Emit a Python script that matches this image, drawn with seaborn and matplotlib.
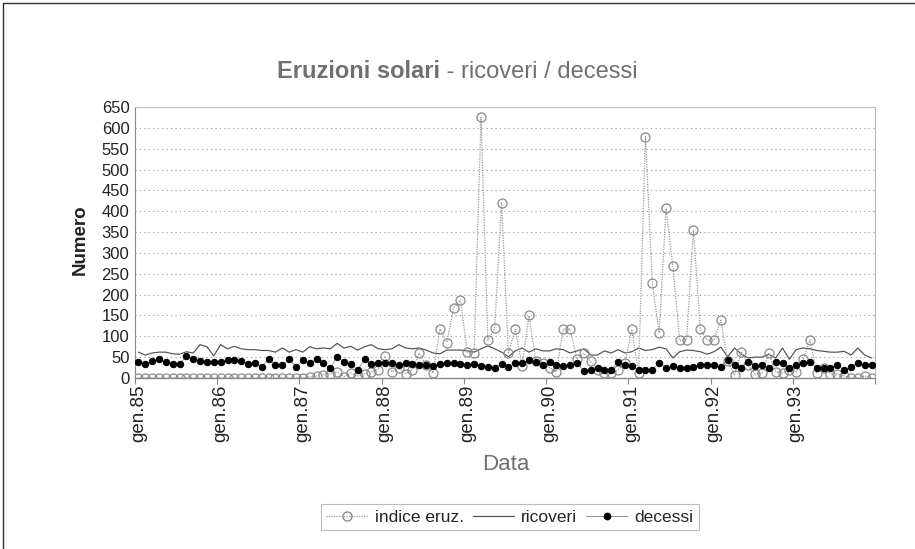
import matplotlib
matplotlib.use("Agg")
import matplotlib.pyplot as plt
import seaborn as sns
import pandas as pd
import numpy as np
from matplotlib.lines import Line2D

# ---- data (monthly, Jan 1985 - Dec 1993) ----
years = ["85", "86", "87", "88", "89", "90", "91", "92", "93"]
tick_labels = ["gen." + y for y in years]

indice_eruz = [
    0, 0, 0, 0, 0, 0, 0, 0, 0, 0, 0, 0,                 # 1985
    0, 0, 0, 0, 0, 0, 0, 0, 0, 0, 0, 0,                 # 1986
    0, 2, 5, 8, 10, 15, 3, 12, 5, 10, 15, 20,           # 1987
    52, 15, 25, 10, 20, 60, 30, 12, 118, 85, 168, 187,  # 1988
    62, 60, 625, 90, 120, 420, 60, 117, 28, 150, 40, 35,  # 1989
    25, 15, 117, 117, 45, 60, 40, 20, 12, 12, 20, 35,   # 1990
    117, 12, 579, 227, 108, 407, 268, 90, 90, 355, 117, 91,  # 1991
    90, 139, 40, 7, 63, 30, 10, 12, 60, 15, 12, 20,     # 1992
    15, 45, 91, 12, 25, 10, 10, 5, 0, 0, 5, 0,          # 1993
]
ricoveri = [
    62, 55, 60, 62, 62, 58, 57, 63, 60, 80, 75, 53,
    80, 70, 76, 70, 68, 68, 66, 66, 62, 72, 62, 68,
    62, 75, 70, 72, 70, 83, 72, 76, 67, 75, 80, 70,
    68, 70, 80, 72, 70, 72, 67, 60, 58, 67, 67, 67,
    65, 62, 70, 77, 70, 62, 51, 65, 72, 62, 70, 65,
    65, 70, 68, 60, 65, 70, 55, 55, 65, 60, 68, 60,
    63, 72, 66, 68, 74, 70, 48, 63, 67, 66, 63, 57,
    63, 74, 51, 72, 57, 48, 50, 50, 57, 48, 72, 45,
    68, 72, 70, 66, 64, 62, 62, 64, 55, 72, 55, 48,
]
decessi = [
    39, 33, 41, 45, 39, 33, 33, 53, 45, 41, 38, 38,
    39, 43, 43, 41, 33, 36, 27, 45, 31, 31, 45, 27,
    43, 35, 45, 35, 23, 51, 39, 33, 19, 45, 33, 37,
    37, 37, 31, 37, 33, 31, 31, 29, 33, 37, 35, 33,
    31, 34, 29, 27, 25, 34, 27, 36, 36, 43, 39, 31,
    39, 31, 29, 31, 36, 17, 20, 24, 20, 20, 39, 31,
    29, 20, 20, 20, 37, 24, 29, 24, 24, 27, 32, 32,
    31, 27, 43, 32, 25, 39, 29, 31, 23, 39, 36, 23,
    31, 36, 39, 23, 23, 23, 31, 19, 27, 36, 31, 31,
]

n = len(indice_eruz)
df = pd.DataFrame({
    "mese": np.arange(n),
    "indice eruz.": indice_eruz,
    "ricoveri": ricoveri,
    "decessi": decessi,
})

sns.set_theme(style="white")
plt.rcParams["font.family"] = ["Liberation Sans", "DejaVu Sans"]

fig = plt.figure(figsize=(9.15, 5.49), dpi=100)
ax = fig.add_axes([135 / 915, 1 - 378 / 549, (875 - 135) / 915, (378 - 107) / 549])

sns.lineplot(data=df, x="mese", y="indice eruz.", ax=ax, color="#9a9a9a",
             linestyle=(0, (1, 1)), linewidth=0.9, marker="o", markersize=6.5,
             markerfacecolor="none", markeredgecolor="#8a8a8a", markeredgewidth=0.9,
             zorder=3)
sns.lineplot(data=df, x="mese", y="ricoveri", ax=ax, color="#505050",
             linewidth=0.85, zorder=2)
sns.lineplot(data=df, x="mese", y="decessi", ax=ax, color="#666666",
             linewidth=0.4, marker="o", markersize=4.6, markerfacecolor="black",
             markeredgecolor="black", zorder=4)

ax.set_xlim(-0.5, n - 0.5)
ax.set_ylim(0, 650)
ax.set_yticks(np.arange(0, 651, 50))
ax.set_xticks(np.arange(0, n, 12))
ax.set_xticklabels(tick_labels, rotation=90, fontsize=13.5, color="#222222")
ax.set_xticks(np.arange(-0.5, n, 12), minor=True)
ax.tick_params(axis="x", which="major", length=0, pad=5)
ax.tick_params(axis="x", which="minor", length=4, width=0.8, color="#888888", direction="out", bottom=True)
ax.tick_params(axis="y", which="major", length=0, pad=4, labelsize=12, labelcolor="#222222")

for yv in np.arange(50, 651, 50):
    ax.axhline(yv, color="#999999", linestyle=(0, (1, 3)), linewidth=0.8, zorder=0)

for s in ["top", "right"]:
    ax.spines[s].set_color("#bbbbbb")
    ax.spines[s].set_linewidth(0.8)
ax.spines["left"].set_color("#888888")
ax.spines["left"].set_linewidth(0.8)
ax.spines["bottom"].set_color("#888888")
ax.spines["bottom"].set_linewidth(1.0)

ax.set_xlabel("")
ax.set_ylabel("")
fig.text(80 / 915, 1 - 240 / 549, "Numero", rotation=90, ha="center", va="center",
         fontsize=13.5, fontweight="bold", color="#222222")
fig.text(506 / 915, 1 - 464 / 549, "Data", ha="center", va="center",
         fontsize=16, color="#707070")

# title: bold part + normal part
fig.canvas.draw()
r = fig.canvas.get_renderer()
t1 = fig.text(0, 1 - 72 / 549, "Eruzioni solari", fontsize=17, fontweight="bold",
              color="#707070", ha="left", va="center")
t2 = fig.text(0, 1 - 72 / 549, " - ricoveri / decessi", fontsize=17,
              color="#707070", ha="left", va="center")
w1 = t1.get_window_extent(r).width
w2 = t2.get_window_extent(r).width
x0 = 457 - (w1 + w2) / 2
t1.set_x(x0 / 915)
t2.set_x((x0 + w1) / 915)

handles = [
    Line2D([], [], color="#9a9a9a", linestyle=(0, (1, 1)), linewidth=0.9, marker="o",
           markersize=6.5, markerfacecolor="none", markeredgecolor="#8a8a8a"),
    Line2D([], [], color="#505050", linewidth=0.85),
    Line2D([], [], color="#666666", linewidth=0.5, marker="o", markersize=4.6,
           markerfacecolor="black", markeredgecolor="black"),
]
leg = fig.legend(handles, ["indice eruz.", "ricoveri", "decessi"], loc="center",
                 bbox_to_anchor=(510 / 915, 1 - 517 / 549), ncol=3, fontsize=12.5,
                 frameon=True, fancybox=False, edgecolor="#aaaaaa",
                 handlelength=2.4, handletextpad=0.4, columnspacing=0.5,
                 borderpad=0.3)
leg.get_frame().set_linewidth(0.8)

# outer frame (top and left edges)
fig.add_artist(Line2D([3 / 915, 1], [1 - 3 / 549, 1 - 3 / 549], color="#333333",
                      linewidth=1.0, transform=fig.transFigure))
fig.add_artist(Line2D([3 / 915, 3 / 915], [0, 1 - 3 / 549], color="#333333",
                      linewidth=1.0, transform=fig.transFigure))

fig.savefig("out.png", dpi=100, facecolor="white")
